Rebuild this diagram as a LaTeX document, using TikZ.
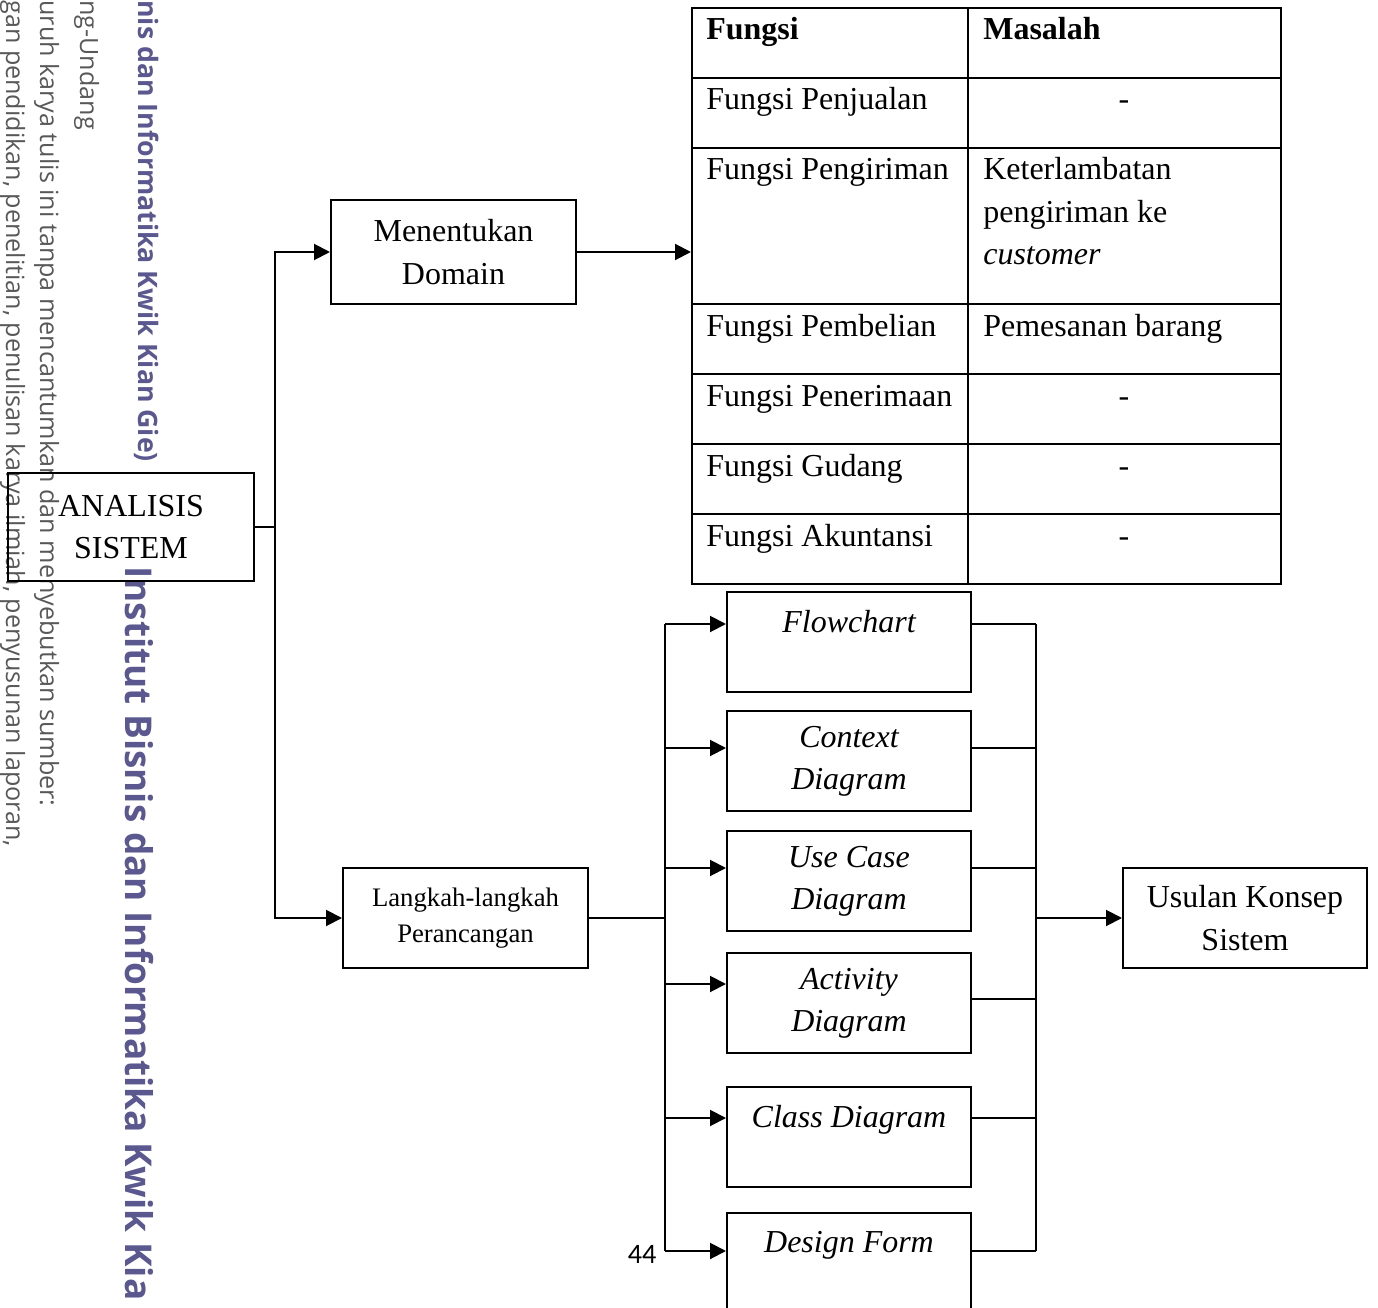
\documentclass[tikz,border=0pt]{standalone}
\usepackage{fontspec}
\setmainfont{Liberation Serif}
\newfontfamily\markfont{Open Sans}
\newfontfamily\pagefont{Carlito}
\usetikzlibrary{arrows.meta,calc,positioning}
\definecolor{markgray}{RGB}{88,88,88}
\definecolor{markviolet}{RGB}{90,88,142}
\tikzset{
  wire/.style={black,line width=0.4mm},
  thinwire/.style={black,line width=0.25mm},
  flow/.style={-{Triangle[length=3.2mm,width=3.2mm]},line width=0.4mm},
  blok/.style={draw=black,line width=0.4mm,minimum width=49mm,minimum height=20mm,
               inner sep=0pt,align=center,font=\fontsize{18.2}{24}\selectfont},
  desain/.style={blok,minimum width=48.8mm,font=\fontsize{18.2}{24}\selectfont\itshape},
  cell/.style={anchor=base west,inner sep=0pt,font=\fontsize{18.2}{24}\selectfont},
  wmark/.style={rotate=-90,anchor=base west,inner sep=0pt,text=markgray,
                font=\markfont\fontsize{14.3}{14.3}\selectfont},
  wbrand/.style={wmark,text=markviolet,font=\markfont\bfseries\fontsize{15.2}{15.2}\selectfont},
}
\begin{document}
\begin{tikzpicture}[x=0.2mm,y=-0.2mm]
  \clip (0,0) rectangle (1378,1308);

  % watermark on the left margin
  \node[wmark] (wm1) at (6,0) {gan pendidikan, penelitian, penulisan karya ilmiah, penyusunan laporan,};
  \node[wmark] (wm2) at (40,0) {uruh karya tulis ini tanpa mencantumkan dan menyebutkan sumber:};
  \node[wmark] (wm3) at (80,0) {ng-Undang};
  \node[wbrand] (wm4) at (138,0) {nis dan Informatika Kwik Kian Gie)};
  \node[wbrand,font=\markfont\bfseries\fontsize{21}{21}\selectfont] (wm5) at (125,566)
    {Institut Bisnis dan Informatika Kwik Kia};

  % main blocks
  \node[blok,minimum width=49.2mm,minimum height=21.6mm] (analisis) at (131,527) {ANALISIS\\SISTEM};
  \node[blok,minimum height=20.8mm] (domain) at (453.5,252) {Menentukan\\Domain};
  \node[blok,font=\fontsize{15.2}{20.5}\selectfont] (langkah) at (465.5,918) {Langkah-langkah\\Perancangan};
  \node[blok,minimum width=48.8mm] (usulan) at (1245,918) {Usulan Konsep\\Sistem};

  % design steps
  \node[desain] (flowchart) at (849,642) {Flowchart\\\mbox{}};
  \node[desain] (context) at (849,761) {Context\\Diagram};
  \node[desain] (usecase) at (849,881) {Use Case\\Diagram};
  \node[desain] (activity) at (849,1003) {Activity\\Diagram};
  \node[desain] (class) at (849,1137) {Class Diagram\\\mbox{}};
  \node[desain] (design) at (849,1263) {Design Form\\\mbox{}};

  % table of functions
  \node[draw=black,line width=0.4mm,minimum width=117.8mm,minimum height=115.2mm,inner sep=0pt]
    (tabel) at (986.5,296) {};
  \draw[wire] (968,8) -- (968,584);
  \foreach \y in {78,148,304,374,444,514}
    \draw[wire] (692,\y) -- (1281,\y);
  \foreach \y/\f in {40/{\textbf{Fungsi}},110/Fungsi Penjualan,180/Fungsi Pengiriman,
                     336/Fungsi Pembelian,406/Fungsi Penerimaan,476/Fungsi Gudang,546/Fungsi Akuntansi}
    \node[cell] (fungsi-\y) at (706,\y) {\f};
  \node[cell] (masalah) at (983,40) {\textbf{Masalah}};
  \foreach \y in {110,406,476,546}
    \node[cell,anchor=base] (kosong-\y) at (1124,\y) {-};
  \node[cell] (telat-a) at (983,180) {Keterlambatan};
  \node[cell] (telat-b) at (983,222) {pengiriman ke};
  \node[cell] (telat-c) at (983,264) {\textit{customer}};
  \node[cell] (pesan) at (983,336) {Pemesanan barang};

  \node[font=\pagefont\fontsize{16}{16}\selectfont,inner sep=0pt] (halaman) at (642,1254) {44};

  % connectors
  \coordinate (cabang) at (275,527);
  \draw[wire] (analisis.east) -- (cabang);
  \draw[flow] (cabang) |- (domain.west);
  \draw[flow] (cabang) |- (langkah.west);
  \draw[flow] (domain.east) -- (domain.east -| tabel.west);

  \coordinate (kiri) at (665,918);
  \coordinate (kanan) at (1036,918);
  \draw[wire] (langkah.east) -- (kiri);
  \foreach \b/\i/\o in {flowchart/-18/-18,context/-13/-13,usecase/-13/-13,
                        activity/-19/-4,class/-19/-19,design/-12/-12}{
    \coordinate (\b-in) at ($(\b.west)+(0,\i)$);
    \coordinate (\b-out) at ($(\b.east)+(0,\o)$);
    \draw[flow] (kiri |- \b-in) -- (\b-in);
    \draw[thinwire] (\b-out) -- (kanan |- \b-out);
  }
  \draw[wire] (kiri |- flowchart-in) -- (kiri |- design-in);
  \draw[thinwire] (kanan |- flowchart-out) -- (kanan |- design-out);
  \draw[flow] (kanan) -- (usulan.west);
\end{tikzpicture}
\end{document}
